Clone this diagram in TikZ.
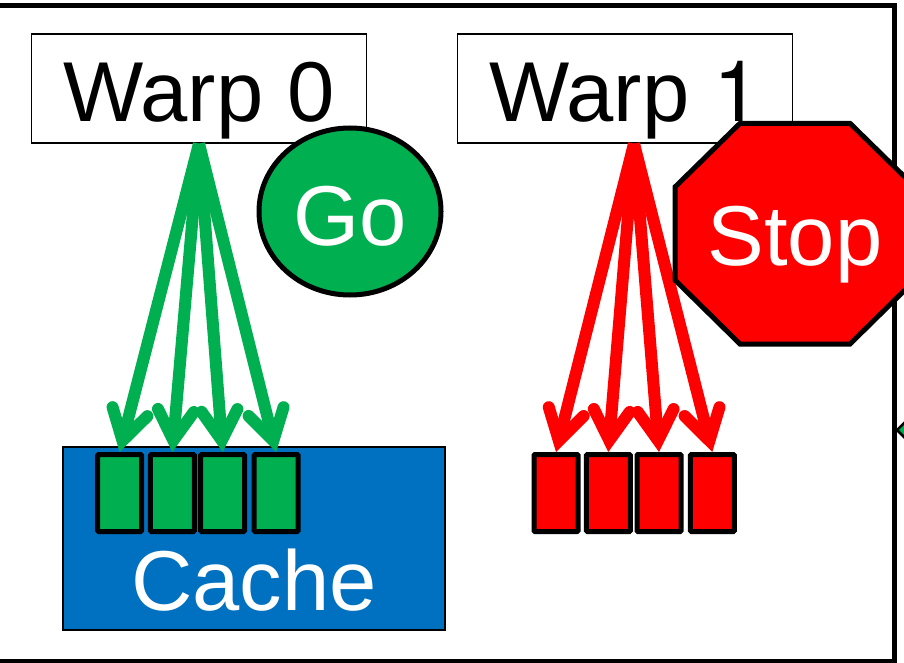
\documentclass[tikz,border=0pt]{standalone}
\usepackage{fontspec}
\setmainfont{Liberation Sans}
\newfontfamily\herosfont{TeX Gyre Heros}
\usetikzlibrary{arrows.meta,shapes.geometric}
\definecolor{gogreen}{HTML}{00B050}
\definecolor{cacheblue}{HTML}{0070C0}
\tikzset{
	bigtext/.style={font=\fontsize{85}{90}\selectfont, inner sep=0pt, text depth=0pt},
	warpbox/.style={bigtext, draw, line width=1.5pt, fill=white, minimum width=335pt, minimum height=109pt, text height=67pt},
	slotgreen/.style={draw, line width=5pt, rounded corners=1pt, fill=gogreen, minimum width=44pt, minimum height=77pt, inner sep=0pt},
	slotred/.style={slotgreen, fill=red},
	fanarrow/.style={line width=12pt, -{Straight Barb[length=30pt, width=36pt, line cap=round, line join=miter]}}
}
\begin{document}
	\begin{tikzpicture}[x=1pt, y=-1pt]
		\useasboundingbox (0,0) rectangle (904,663);
		\clip (0,0) rectangle (904,663);
		
		%Frame
		\draw[line width=2.5pt, fill=gogreen] (912,415) -- (897,430) -- (912,445);
		\draw[line width=5pt] (-10,6) rectangle (894,661);
		
		%Warps
		\node[warpbox] (warp0) at (199,88.5) {Warp 0};
		\node[warpbox] (warp1) at (625,88.5) {Warp {\herosfont 1}};
		
		%Cache
		\node[bigtext, draw, line width=1.5pt, fill=cacheblue, text=white, minimum width=382pt, minimum height=183pt, text height=143pt] (cache) at (254,538.5) {Cache};
		
		%Slots
		\node[slotgreen] (g1) at (119.6,493) {};
		\node[slotgreen] (g2) at (172.3,493) {};
		\node[slotgreen] (g3) at (222.7,493) {};
		\node[slotgreen] (g4) at (276.2,493) {};
		\node[slotred] (r1) at (556,493) {};
		\node[slotred] (r2) at (608.3,493) {};
		\node[slotred] (r3) at (659,493) {};
		\node[slotred] (r4) at (712.3,493) {};
		
		%connections
		\draw[fanarrow, gogreen] (warp0.south) -- (g1.north);
		\draw[fanarrow, gogreen] (warp0.south) -- (g2.north);
		\draw[fanarrow, gogreen] (warp0.south) -- (g3.north);
		\draw[fanarrow, gogreen] (warp0.south) -- (g4.north);
		\draw[fanarrow, red] ([xshift=9pt]warp1.south) -- (r1.north);
		\draw[fanarrow, red] ([xshift=9pt]warp1.south) -- (r2.north);
		\draw[fanarrow, red] ([xshift=9pt]warp1.south) -- (r3.north);
		\draw[fanarrow, red] ([xshift=9pt]warp1.south) -- (r4.north);
		
		%Signs
		\node[bigtext, ellipse, draw, line width=5pt, fill=gogreen, text=white, minimum width=182pt, minimum height=167pt, text height=67pt] (go) at (350,211.5) {Go};
		\draw[line width=5pt, fill=red] (740,123.3) -- (850,123.3) -- (915,187) -- (915,280) -- (850,344) -- (740,344) -- (675,280) -- (675,187) -- cycle;
		\node[bigtext, text=white, text height=64pt] (stop) at (795,233.7) {Stop};
	\end{tikzpicture}
\end{document}
